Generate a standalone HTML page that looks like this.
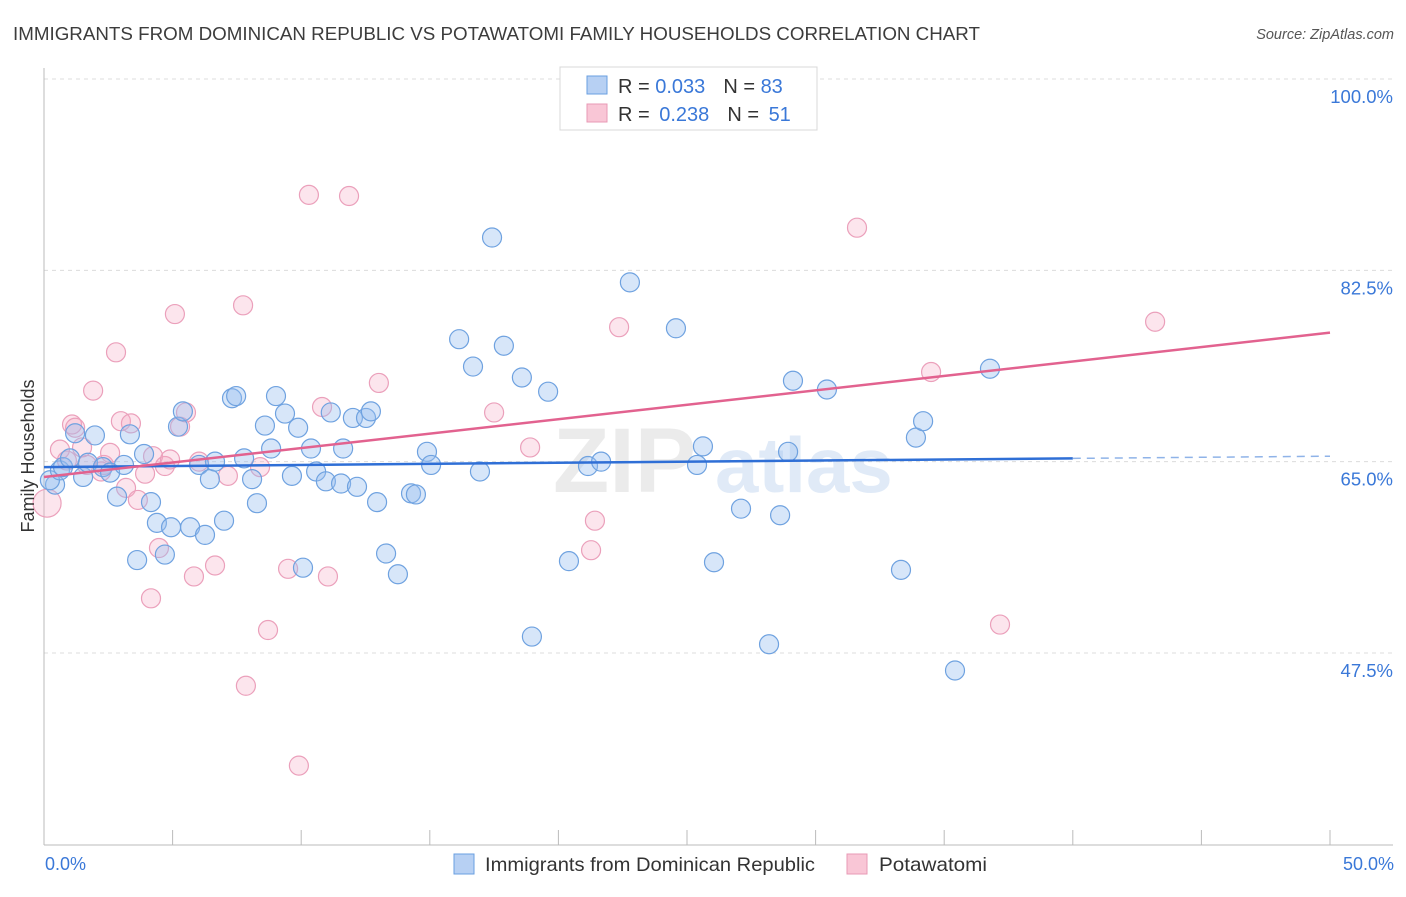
<!DOCTYPE html>
<html><head><meta charset="utf-8"><style>
body{margin:0;background:#fff;font-family:"Liberation Sans",sans-serif;}
svg text{font-family:"Liberation Sans",sans-serif;}
</style></head><body>
<svg id="chart" width="1406" height="892">
<text x="13" y="40" font-size="18.5" fill="#3c3c3c" textLength="967" lengthAdjust="spacingAndGlyphs">IMMIGRANTS FROM DOMINICAN REPUBLIC VS POTAWATOMI FAMILY HOUSEHOLDS CORRELATION CHART</text>
<text x="1394" y="39" font-size="14.5" fill="#555" font-style="italic" text-anchor="end">Source: ZipAtlas.com</text>
<g opacity="0.35">
<text x="553" y="492" font-size="92" font-family="Liberation Serif" fill="#c8c8c8" font-weight="bold">ZIP</text>
<text x="715" y="492" font-size="78" fill="#a9c6ea" font-weight="bold">atlas</text>
</g>
<g id="grid"></g>
<g id="axes"></g>
<g id="points"></g>
<g id="trends"></g>
<text transform="translate(34,456) rotate(-90)" font-size="18" fill="#333" text-anchor="middle">Family Households</text>
<text x="45" y="870" font-size="18" fill="#3a78d8">0.0%</text>
<text x="1394" y="870" font-size="18" fill="#3a78d8" text-anchor="end">50.0%</text>
<g>
<rect x="560" y="67" width="257" height="63" fill="#fff" stroke="#d8d8d8"/>
<rect x="587" y="76" width="20" height="18" fill="#b7d0f3" stroke="#6a9fe0"/>
<rect x="587" y="104" width="20" height="18" fill="#f9c6d6" stroke="#e899b5"/>
<text x="618" y="93" font-size="20" fill="#333">R = <tspan fill="#3a78d8">0.033</tspan><tspan dx="18">N = </tspan><tspan fill="#3a78d8">83</tspan></text>
<text x="618" y="121" font-size="20" fill="#333">R = <tspan fill="#3a78d8" dx="4">0.238</tspan><tspan dx="18">N = </tspan><tspan fill="#3a78d8" dx="4">51</tspan></text>
</g>
<g>
<rect x="454" y="854" width="20" height="20" fill="#b7d0f3" stroke="#6a9fe0"/>
<text x="485" y="871" font-size="19.5" fill="#333" textLength="330" lengthAdjust="spacingAndGlyphs">Immigrants from Dominican Republic</text>
<rect x="847" y="854" width="20" height="20" fill="#f9c6d6" stroke="#e899b5"/>
<text x="879" y="871" font-size="19.5" fill="#333" textLength="108" lengthAdjust="spacingAndGlyphs">Potawatomi</text>
</g>
</svg>
<script>
const yTicks=[100,82.5,65,47.5];
const yTickLabels=["100.0%","82.5%","65.0%","47.5%"];
const xTicks=[0,5,10,15,20,25,30,35,40,45,50];
const blueX=[0.43,0.23,0.62,0.74,1.01,1.21,1.52,1.71,1.98,2.29,2.57,2.84,3.11,3.34,3.62,3.89,4.16,4.39,4.70,4.94,5.21,5.40,5.68,6.03,6.26,6.45,6.65,7.00,7.31,7.47,7.78,8.09,8.28,8.59,8.83,9.02,9.37,9.64,9.88,10.07,10.38,10.58,10.96,11.15,11.55,11.63,12.01,12.17,12.52,12.71,12.95,13.30,13.76,14.27,14.46,14.89,15.05,16.14,16.68,16.95,17.42,17.88,18.58,18.97,19.60,20.41,21.15,21.66,22.78,24.57,25.39,25.62,26.05,27.10,28.19,28.62,28.93,29.12,30.44,33.32,33.90,34.18,35.42,36.78];
const blueY=[62.9,63.3,64.2,64.5,65.3,67.6,63.6,64.9,67.4,64.5,64.0,61.8,64.7,67.5,56.0,65.7,61.3,59.4,56.5,59.0,68.2,69.6,59.0,64.7,58.3,63.4,65.0,59.6,70.8,71.0,65.3,63.4,61.2,68.3,66.2,71.0,69.4,63.7,68.1,55.3,66.2,64.1,63.2,69.5,63.0,66.2,69.0,62.7,69.0,69.6,61.3,56.6,54.7,62.1,62.0,65.9,64.7,76.2,73.7,64.1,85.5,75.6,72.7,49.0,71.4,55.9,64.6,65.0,81.4,77.2,64.7,66.4,55.8,60.7,48.3,60.1,65.9,72.4,71.6,55.1,67.2,68.7,45.9,73.5];
const pinkX=[0.12,0.62,0.89,1.09,1.21,1.48,1.67,1.91,2.22,2.33,2.57,2.80,2.99,3.19,3.38,3.65,3.93,4.16,4.24,4.47,4.70,4.90,5.09,5.29,5.52,5.83,6.03,6.65,7.15,7.74,7.85,8.40,8.71,9.49,9.91,10.30,10.81,11.04,11.86,13.02,17.50,18.90,21.27,21.42,22.36,31.61,34.49,37.17,43.20];
const pinkY=[61.2,66.1,65.1,68.4,68.1,66.3,64.7,71.5,64.1,64.7,65.8,75.0,68.7,62.6,68.5,61.5,63.9,52.5,65.5,57.1,64.6,65.2,78.5,68.2,69.5,54.5,65.0,55.5,63.7,79.3,44.5,64.5,49.6,55.2,37.2,89.4,70.0,54.5,89.3,72.2,69.5,66.3,56.9,59.6,77.3,86.4,73.2,50.1,77.8];
const blueTrend=[64.5,65.3,65.5]; // at x=0, 40, 50
const pinkTrend=[63.6,76.8];       // at x=0, 50
const NS='http://www.w3.org/2000/svg';
const X=v=>44+v*25.72;
const Y=v=>79+(100-v)*10.933;
function mk(tag,attrs,parent){const e=document.createElementNS(NS,tag);for(const k in attrs)e.setAttribute(k,attrs[k]);document.getElementById(parent).appendChild(e);return e;}
yTicks.forEach((t,i)=>{
  const l=mk('line',{x1:44,x2:1393,y1:Y(t),y2:Y(t),stroke:'#dcdcdc','stroke-dasharray':'4,4'},'grid');
  
  
  const tx=mk('text',{x:1393,y:Y(t)+24,'font-size':18.5,fill:'#3a78d8','text-anchor':'end'},'grid');
  tx.textContent=yTickLabels[i];
  
  
});
const ax=mk('line',{x1:44,x2:44,y1:68,y2:845,stroke:'#bbb'},'axes');


const bx=mk('line',{x1:44,x2:1393,y1:845,y2:845,stroke:'#bbb'},'axes');


xTicks.forEach(t=>{
  const l=mk('line',{x1:X(t),x2:X(t),y1:830,y2:845,stroke:'#bbb'},'axes');
  
  
});
pinkX.forEach((x,i)=>{
  const c=mk('circle',{cx:X(x),cy:Y(pinkY[i]),r:i===0?14:9.5,fill:'rgba(245,170,195,0.3)',stroke:'#eba0bb','stroke-width':1.2},'points');
  
  
});
blueX.forEach((x,i)=>{
  const c=mk('circle',{cx:X(x),cy:Y(blueY[i]),r:9.5,fill:'rgba(150,190,240,0.38)',stroke:'#6fa2e0','stroke-width':1.2},'points');
  
  
});
const bt=mk('line',{x1:X(0),y1:Y(blueTrend[0]),x2:X(40),y2:Y(blueTrend[1]),stroke:'#2f6fd6','stroke-width':2.5},'trends');


const bd=mk('line',{x1:X(40),y1:Y(blueTrend[1]),x2:X(50),y2:Y(blueTrend[2]),stroke:'#8fb3e8','stroke-width':1.5,'stroke-dasharray':'8,6'},'trends');


const pt=mk('line',{x1:X(0),y1:Y(pinkTrend[0]),x2:X(50),y2:Y(pinkTrend[1]),stroke:'#e2628f','stroke-width':2.5},'trends');


</script>
</body></html>
